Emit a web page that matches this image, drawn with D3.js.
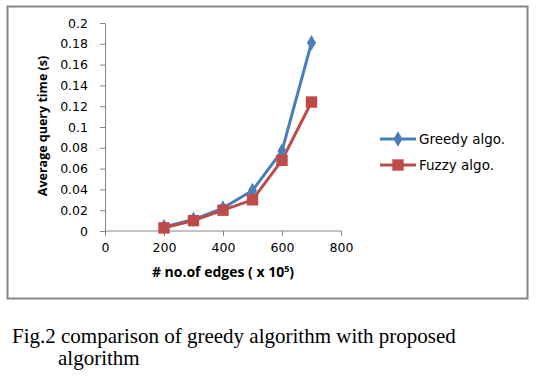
<!DOCTYPE html>
<html>
<head>
<meta charset="utf-8">
<script src="https://cdn.jsdelivr.net/npm/d3@7"></script>
<style>
  body { margin: 0; background: #fff; }
  .axis text { font-family: "DejaVu Sans", sans-serif; font-size: 12.5px; fill: #000; }
  .axis path, .axis line { stroke: #868686; }
</style>
</head>
<body>
<div id="chart"></div>
<script>

// chart data
var edges = [200, 300, 400, 500, 600, 700];
var greedy = [0.004, 0.011, 0.022, 0.039, 0.077, 0.181];
var fuzzy = [0.003, 0.010, 0.020, 0.030, 0.068, 0.124];
var seriesNames = ["Greedy algo.", "Fuzzy algo."];
var xTicks = [0, 200, 400, 600, 800];
var yTicks = [0, 0.02, 0.04, 0.06, 0.08, 0.1, 0.12, 0.14, 0.16, 0.18, 0.2];

var colors = ["#4a7ebb", "#be4b48"];

var svg = d3.select("#chart").append("svg")
	.attr("width", 537)
	.attr("height", 376);

// outer frame
svg.append("rect")
	.attr("x", 7.5).attr("y", 6.5)
	.attr("width", 520).attr("height", 292)
	.attr("fill", "none")
	.attr("stroke", "#868686")
	.attr("stroke-width", 2);

var margin = { left: 105, top: 23 };
var width = 236, height = 208;

var g = svg.append("g")
	.attr("transform", "translate(" + margin.left + "," + margin.top + ")");

var x = d3.scaleLinear().domain([0, 800]).range([0, width]);
var y = d3.scaleLinear().domain([0, 0.2]).range([height, 0]);

var xAxis = d3.axisBottom(x).tickValues(xTicks).tickSize(5).tickPadding(7)
	.tickFormat(d3.format("d"));
var yAxis = d3.axisLeft(y).tickValues(yTicks).tickSize(5).tickPadding(12)
	.tickFormat(function (d) { return d === 0 ? "0" : String(+d.toFixed(2)); });

g.append("g")
	.attr("class", "x-axis axis")
	.attr("transform", "translate(0," + height + ")")
	.call(xAxis)
	.call(function (a) { a.select(".domain").attr("d", "M0.5,0H" + (width + 0.5)); });

g.append("g")
	.attr("class", "y-axis axis")
	.call(yAxis)
	.call(function (a) { a.select(".domain").attr("d", "M0.5," + height + "V0.5"); });

// axis labels
g.append("text")
	.attr("x", x(400))
	.attr("y", height + 46)
	.attr("text-anchor", "middle")
	.attr("font-family", "Open Sans, sans-serif")
	.attr("font-size", 14)
	.attr("font-weight", "bold")
	.html("# no.of edges ( x 10<tspan dy='-5' font-size='9'>5</tspan><tspan dy='5'>)</tspan>");

g.append("text")
	.attr("transform", "rotate(-90)")
	.attr("x", -103)
	.attr("y", -58)
	.attr("text-anchor", "middle")
	.attr("font-family", "Open Sans, sans-serif")
	.attr("font-size", 12.5)
	.attr("font-weight", "bold")
	.text("Average query time (s)");

var line = d3.line()
	.x(function (d) { return x(d[0]); })
	.y(function (d) { return y(d[1]); });

var series = [greedy, fuzzy].map(function (vals) {
	return edges.map(function (e, i) { return [e, vals[i]]; });
});

var symbols = [d3.symbol().type(d3.symbolDiamond).size(70), d3.symbol().type(d3.symbolSquare).size(130)];

series.forEach(function (s, i) {
	g.append("path")
		.datum(s)
		.attr("fill", "none")
		.attr("stroke", colors[i])
		.attr("stroke-width", 3)
		.attr("d", line);
});

series.forEach(function (s, i) {
	g.selectAll(".pt" + i)
		.data(s)
		.enter().append("path")
		.attr("class", "pt" + i)
		.attr("transform", function (d) { return "translate(" + x(d[0]) + "," + y(d[1]) + ")"; })
		.attr("d", symbols[i])
		.attr("fill", colors[i]);
});

// legend
var legend = svg.append("g").attr("transform", "translate(380,139)");
seriesNames.forEach(function (name, i) {
	var row = legend.append("g").attr("transform", "translate(0," + (i * 26) + ")");
	row.append("line")
		.attr("x1", 0).attr("x2", 36)
		.attr("stroke", colors[i]).attr("stroke-width", 3);
	row.append("path")
		.attr("transform", "translate(18,0)")
		.attr("d", symbols[i])
		.attr("fill", colors[i]);
	row.append("text")
		.attr("x", 39).attr("y", 5)
		.attr("font-family", "DejaVu Sans, sans-serif")
		.attr("font-size", 13.5)
		.text(name);
});

// caption
var caption = svg.append("g")
	.attr("font-family", "Liberation Serif, Times New Roman, serif")
	.attr("font-size", 21)
	.attr("fill", "#000");
caption.append("text").attr("x", 12).attr("y", 343)
	.text("Fig.2 comparison of greedy algorithm with proposed");
caption.append("text").attr("x", 58).attr("y", 365)
	.text("algorithm");

</script>
</body>
</html>
